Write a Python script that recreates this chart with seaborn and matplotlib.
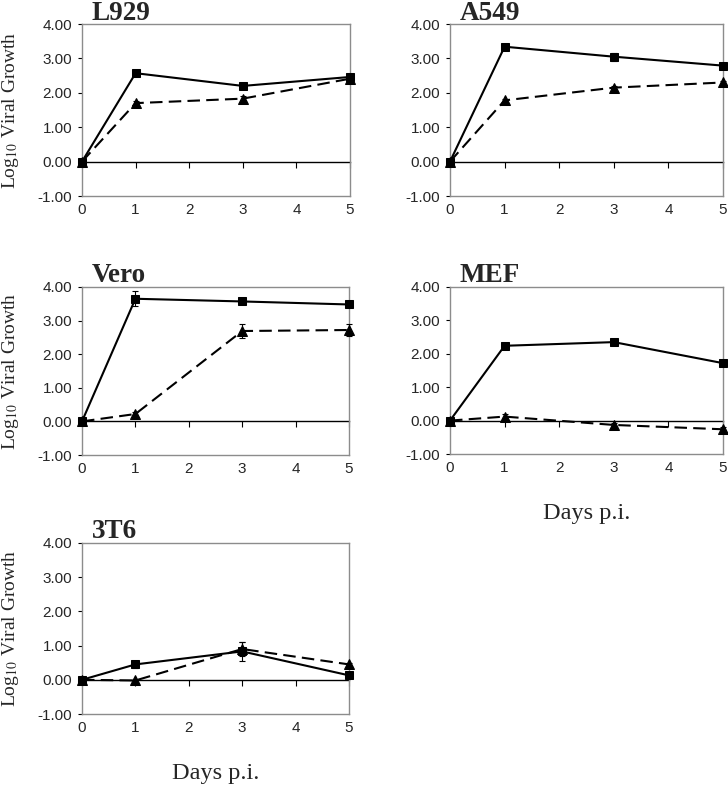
import matplotlib
matplotlib.use('Agg')
import matplotlib.pyplot as plt
import seaborn as sns
import pandas as pd

# ---------------- data ----------------
days = [0, 1, 3, 5]
panel_names = ["L929", "A549", "Vero", "MEF", "3T6"]

l929_sq = [0.00, 2.57, 2.20, 2.46]
l929_tri = [0.00, 1.70, 1.83, 2.41]
a549_sq = [0.00, 3.34, 3.05, 2.79]
a549_tri = [0.00, 1.78, 2.15, 2.30]
vero_sq = [0.00, 3.65, 3.57, 3.48]
vero_tri = [0.00, 0.22, 2.69, 2.72]
mef_sq = [0.00, 2.24, 2.35, 1.72]
mef_tri = [0.00, 0.12, -0.13, -0.26]
t3t6_sq = [0.00, 0.45, 0.83, 0.13]
t3t6_tri = [0.00, -0.02, 0.90, 0.45]

l929_sq_err = [0.0, 0.05, 0.05, 0.05]
l929_tri_err = [0.0, 0.05, 0.08, 0.05]
a549_sq_err = [0.0, 0.05, 0.12, 0.05]
a549_tri_err = [0.0, 0.05, 0.05, 0.05]
vero_sq_err = [0.0, 0.22, 0.08, 0.05]
vero_tri_err = [0.0, 0.05, 0.20, 0.18]
mef_sq_err = [0.0, 0.05, 0.05, 0.05]
mef_tri_err = [0.0, 0.08, 0.05, 0.06]
t3t6_sq_err = [0.0, 0.10, 0.27, 0.05]
t3t6_tri_err = [0.0, 0.03, 0.20, 0.05]

y_ticks = [-1, 0, 1, 2, 3, 4]
x_ticks = [0, 1, 2, 3, 4, 5]

# ---------------- style ----------------
sns.set_theme(style='white')
plt.rcParams['font.family'] = ['Liberation Sans', 'DejaVu Sans']
plt.rcParams['mathtext.fontset'] = 'stix'

W, H = 728, 787
fig = plt.figure(figsize=(W / 100, H / 100), dpi=100)


def add_ax(l, t, r, b):
    return fig.add_axes([l / W, 1 - b / H, (r - l) / W, (b - t) / H])


layout = {
    "L929": ((82, 24, 350, 196), l929_sq, l929_tri, l929_sq_err, l929_tri_err, True, False),
    "A549": ((450, 24, 723, 196), a549_sq, a549_tri, a549_sq_err, a549_tri_err, False, False),
    "Vero": ((82, 287, 349, 455), vero_sq, vero_tri, vero_sq_err, vero_tri_err, True, False),
    "MEF": ((450, 287, 723, 454), mef_sq, mef_tri, mef_sq_err, mef_tri_err, False, True),
    "3T6": ((82, 543, 349, 714), t3t6_sq, t3t6_tri, t3t6_sq_err, t3t6_tri_err, True, True),
}

gray = '#8c8c8c'

for name in panel_names:
    box, sq, tri, sqe, trie, ylab, xlab = layout[name]
    ax = add_ax(*box)
    df = pd.DataFrame({
        'day': days + days,
        'value': sq + tri,
        'series': ['sq'] * len(days) + ['tri'] * len(days),
    })
    ax.errorbar(days, sq, yerr=sqe, fmt='none', ecolor='black', elinewidth=0.8,
                capsize=2.5, capthick=0.8, zorder=3, clip_on=False)
    ax.errorbar(days, tri, yerr=trie, fmt='none', ecolor='black', elinewidth=0.8,
                capsize=2.5, capthick=0.8, zorder=3, clip_on=False)
    sns.lineplot(data=df, x='day', y='value', style='series',
                 markers={'sq': 's', 'tri': '^'},
                 dashes={'sq': '', 'tri': (6, 3)},
                 color='black', markersize=5.8, linewidth=1.5,
                 markeredgecolor='black', legend=False, ax=ax,
                 clip_on=False, zorder=4)
    for ln in ax.lines:
        if ln.get_marker() == '^':
            ln.set_markersize(7.5)
    ax.set_xlim(0, 5)
    ax.set_ylim(-1, 4)
    ax.set_yticks(y_ticks)
    ax.set_yticklabels([f"{v:.2f}" for v in y_ticks])
    ax.set_xticks(x_ticks)
    ax.set_xticklabels([str(v) for v in x_ticks])
    ax.set_xlabel('')
    ax.set_ylabel('')
    for s in ax.spines.values():
        s.set_color(gray)
        s.set_linewidth(1.0)
    ax.tick_params(axis='y', direction='out', length=3, width=0.8, color='black',
                   labelsize=11, pad=4, left=True)
    ax.tick_params(axis='x', length=0, labelsize=11, pad=5)
    # horizontal axis crossing at zero
    sec = ax.secondary_xaxis(0.2)
    sec.set_xticks(x_ticks)
    sec.tick_params(axis='x', direction='out', length=4, width=0.8, color='black',
                    labelbottom=False)
    sec.spines['bottom'].set_color('black')
    sec.spines['bottom'].set_linewidth(1.0)

    l, t, r, b = box
    fig.text((l + 10) / W, 1 - (t - 4.5) / H, name, fontfamily='Liberation Serif',
             fontweight='bold', fontsize=19.5, ha='left', va='baseline')
    if ylab:
        ax.set_ylabel(r"Log$_{10}$ Viral Growth", fontfamily='Liberation Serif',
                      fontsize=14)
        ax.yaxis.set_label_coords((21 - l) / (r - l), 0.5)
    if xlab:
        fig.text((l + r) / 2 / W, 1 - (b + 59) / H, "Days p.i.",
                 fontfamily='Liberation Serif', fontsize=17.5, ha='center', va='center')

fig.savefig('out.png', dpi=100)
